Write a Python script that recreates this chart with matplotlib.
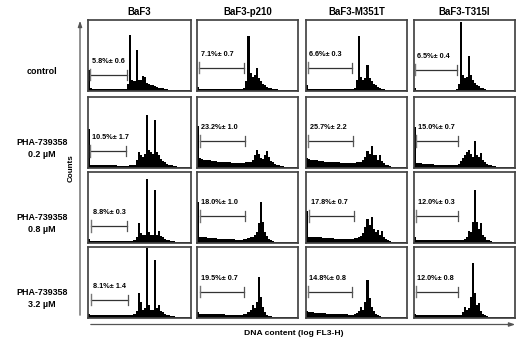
import numpy as np
import matplotlib
matplotlib.use("Agg")
import matplotlib.pyplot as plt

# DNA content histograms, 50 channels each, height in % of panel
cells = ["BaF3", "BaF3-p210", "BaF3-M351T", "BaF3-T315I"]
treatments = ["control", "PHA-739358\n0.2 \u00b5M", "PHA-739358\n0.8 \u00b5M", "PHA-739358\n3.2 \u00b5M"]

baf3_ctrl = [30,4,3,3,3,3,3,3,3,3, 3,3,3,3,3,3,3,3,3,10, 78,16,14,58,15,16,21,20,12,10, 9,8,7,6,5,4,4,3,3,2, 2,2,2,1,1,1,1,1,1,1]
p210_ctrl = [6,3,3,3,3,3,3,3,3,3, 3,3,3,3,3,3,3,3,3,3, 3,3,3,4,14,77,25,20,22,33, 18,14,10,8,6,5,4,3,3,3, 2,2,2,1,1,1,1,1,1,1]
m351_ctrl = [8,3,3,3,3,3,3,3,3,3, 3,3,3,3,3,3,3,3,3,3, 3,3,3,3,5,15,77,20,16,18, 37,18,14,10,8,6,4,3,3,2, 2,2,2,1,1,1,1,1,1,1]
t315_ctrl = [4,2,2,2,2,2,2,2,2,2, 2,2,2,2,2,2,2,2,2,2, 2,3,10,97,22,18,20,49,22,16, 12,9,7,5,4,3,2,2,2,1, 1,1,1,1,1,1,1,1,1,1]

baf3_02 = [55,4,4,4,4,4,4,4,4,4, 4,4,4,4,3,3,3,3,3,3, 4,4,5,12,22,18,15,20,75,25, 22,20,67,22,18,13,10,8,6,5, 4,3,3,2,2,2,1,1,1,1]
p210_02 = [59,14,13,12,12,11,11,10,10,10, 9,9,9,8,8,8,8,7,7,7, 7,7,7,7,8,8,9,12,18,26, 20,14,13,18,24,15,10,8,6,5, 4,3,3,2,2,2,1,1,1,1]
m351_02 = [14,13,12,12,11,11,10,10,10,9, 9,9,9,8,8,8,8,7,7,7, 7,7,7,7,7,8,8,9,12,15, 24,20,31,18,19,12,18,10,7,5, 4,3,2,2,2,1,1,1,1,1]
t315_02 = [57,7,7,7,6,6,6,6,6,6, 5,5,5,5,5,5,5,5,5,5, 5,5,6,10,14,18,22,26,20,16, 38,18,15,21,12,9,6,5,4,3, 3,2,2,2,1,1,1,1,1,1]

baf3_08 = [6,3,3,3,3,3,3,3,3,3, 3,3,3,3,3,3,3,3,3,3, 3,3,4,8,28,14,12,12,90,15, 12,12,75,12,17,10,8,6,5,4, 3,3,2,2,2,1,1,1,1,1]
p210_08 = [57,9,8,8,8,7,7,7,7,7, 6,6,6,6,6,6,6,6,6,5, 5,5,5,6,6,7,8,9,11,16, 28,57,30,16,10,6,4,3,2,2, 2,1,1,1,1,1,1,1,1,1]
m351_08 = [45,9,9,9,8,8,8,8,7,7, 7,7,7,7,6,6,6,6,6,6, 6,6,6,6,7,7,8,10,14,22, 34,25,37,20,16,19,12,17,8,6, 4,3,2,2,2,1,1,1,1,1]
t315_08 = [8,4,4,4,4,4,4,4,4,4, 4,4,4,4,4,4,4,4,4,4, 4,4,4,4,5,6,8,17,15,30, 75,30,20,28,12,8,5,4,3,2, 2,2,1,1,1,1,1,1,1,1]

baf3_32 = [6,4,4,4,4,4,4,4,4,4, 4,4,4,4,4,4,4,4,4,4, 4,5,6,10,35,22,12,14,98,18, 12,12,81,14,19,10,8,6,5,4, 3,3,2,2,2,1,1,1,1,1]
p210_32 = [8,6,6,6,6,6,6,6,6,6, 6,6,6,6,5,5,5,5,5,5, 5,5,5,6,6,8,12,19,14,22, 58,30,16,9,5,3,3,2,2,2, 1,1,1,1,1,1,1,1,1,1]
m351_32 = [10,8,8,8,7,7,7,7,7,7, 6,6,6,6,6,6,6,6,6,6, 6,5,5,5,6,7,10,16,12,22, 53,28,15,10,6,4,3,2,2,2, 1,1,1,1,1,1,1,1,1,1]
t315_32 = [6,4,4,4,4,4,4,4,4,4, 4,4,4,4,4,4,4,4,4,4, 4,4,4,5,8,16,12,14,30,77, 35,18,21,10,6,4,3,2,2,2, 1,1,1,1,1,1,1,1,1,1]

# sub-G1 fraction (mean, sd) and gate limits in channels
subg1 = ["5.8%\u00b1 0.6", "7.1%\u00b1 0.7", "6.6%\u00b1 0.3", "6.5%\u00b1 0.4",
         "10.5%\u00b1 1.7", "23.2%\u00b1 1.0", "25.7%\u00b1 2.2", "15.0%\u00b1 0.7",
         "8.8%\u00b1 0.3", "18.0%\u00b1 1.0", "17.8%\u00b1 0.7", "12.0%\u00b1 0.3",
         "8.1%\u00b1 1.4", "19.5%\u00b1 0.7", "14.8%\u00b1 0.8", "12.0%\u00b1 0.8"]
gate_lo = [0.8, 1.3, 1.0, 0.5, 0.8, 1.5, 1.3, 1.0, 1.3, 1.5, 1.8, 1.0, 1.5, 1.5, 1.0, 0.8]
gate_hi = [19, 23.5, 23, 21.5, 18.5, 24, 23.5, 22, 19, 24, 24, 22, 19.5, 23.5, 23, 22]

hists = [baf3_ctrl, p210_ctrl, m351_ctrl, t315_ctrl,
         baf3_02, p210_02, m351_02, t315_02,
         baf3_08, p210_08, m351_08, t315_08,
         baf3_32, p210_32, m351_32, t315_32]

# layout (pixels)
W, H = 520, 341
col_x = [88.3, 196.7, 305.7, 414.0]
col_w = [102.7, 101.6, 101.3, 100.5]
row_y = [19.7, 96.7, 171.7, 246.7]
row_h = 71.5
gate_y = [23, 33, 33, 30, 24, 38, 38, 38, 24, 38, 38, 38, 26, 37, 37, 37]

plt.rcParams["font.family"] = ["Liberation Sans", "DejaVu Sans"]
plt.rcParams["font.weight"] = "bold"
fig = plt.figure(figsize=(W / 100, H / 100), dpi=100)

over = fig.add_axes([0, 0, 1, 1])
over.set_xlim(0, W)
over.set_ylim(H, 0)
over.axis("off")

frame = "#444444"
edges = np.arange(51)
for r in range(4):
    for c in range(4):
        k = r * 4 + c
        ax = fig.add_axes([col_x[c] / W, 1 - (row_y[r] + row_h) / H, col_w[c] / W, row_h / H])
        ax.stairs(hists[k], edges, fill=True, color="black", lw=0)
        ax.set_xlim(0, 50)
        ax.set_ylim(0, 100)
        ax.set_xticks([])
        ax.set_yticks([])
        for s in ax.spines.values():
            s.set_color(frame)
            s.set_linewidth(1.25)
        g0, g1, gy = gate_lo[k], gate_hi[k], gate_y[k]
        ax.plot([g0, g1], [gy, gy], color="#333333", lw=0.9)
        ax.plot([g0, g0], [gy - 8, gy + 8], color="#777777", lw=1.0)
        ax.plot([g1, g1], [gy - 7, gy + 7], color="#555555", lw=0.9)
        ax.text(g0 + 0.8, gy + 19, subg1[k], fontsize=5.2, fontweight="bold",
                ha="left", va="center")

for c in range(4):
    over.text(col_x[c] + col_w[c] / 2, 12, cells[c], fontsize=6.9, fontweight="bold",
              ha="center", va="center")
for r in range(4):
    over.text(42, row_y[r] + row_h / 2 + 16, treatments[r], fontsize=6.4, fontweight="bold",
              ha="center", va="center", linespacing=1.5)

# axis arrows
over.annotate("", xy=(80, 18), xytext=(80, 318),
              arrowprops=dict(arrowstyle="-|>,head_length=0.35,head_width=0.12", color="#555555", lw=0.9))
over.annotate("", xy=(518, 324.5), xytext=(88, 324.5),
              arrowprops=dict(arrowstyle="-|>,head_length=0.35,head_width=0.12", color="#555555", lw=0.9))
over.text(71, 168, "Counts", rotation=90, fontsize=5.8, fontweight="bold", ha="center", va="center")
over.text(294, 333.5, "DNA content (log FL3-H)", fontsize=6.1, fontweight="bold", ha="center", va="center")

fig.savefig("out.png", dpi=100)
